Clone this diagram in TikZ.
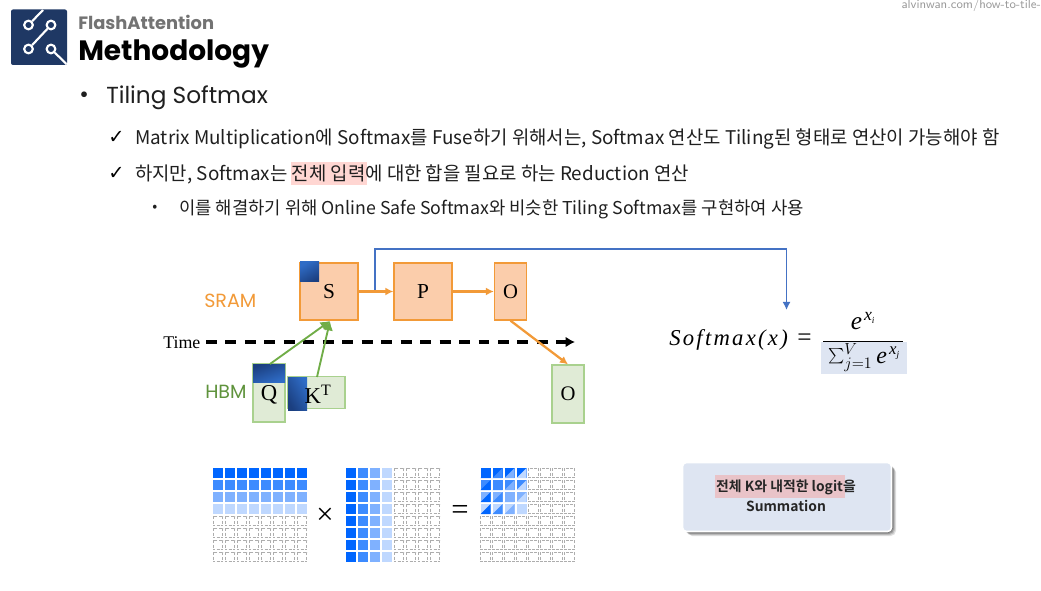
\documentclass[tikz,border=0pt]{standalone}
\usepackage{fontspec}
\usetikzlibrary{arrows.meta,calc}
\setmainfont{Noto Sans CJK KR}[BoldFont={Noto Sans CJK KR Bold}]
\newfontfamily\titlefont{Poppins}
\newfontfamily\ebfont{Liberation Serif}
\newfontfamily\eqfont[LetterSpace=10]{Liberation Serif}
\newfontfamily\chkfont{DejaVu Sans}
\definecolor{navy}{HTML}{1F3864}
\definecolor{gdark}{HTML}{1B3F80}
\definecolor{gblue}{HTML}{2F6CC6}
\definecolor{org}{HTML}{F29A38}
\definecolor{orgfill}{HTML}{FBCDAB}
\definecolor{grn}{HTML}{70AD47}
\definecolor{grnfill}{HTML}{E0EBD6}
\definecolor{grnline}{HTML}{A9D18E}
\definecolor{blu}{HTML}{4472C4}
\definecolor{hl}{HTML}{FFD6D2}
\definecolor{hlb}{HTML}{E9C3C8}
\definecolor{pale}{HTML}{DEE5F2}
\definecolor{b1}{HTML}{0066FF}
\definecolor{b2}{HTML}{3D8BFF}
\definecolor{b3}{HTML}{7FB1FF}
\definecolor{b4}{HTML}{BFD8FF}
\tikzset{
 x=0.75pt,y=-0.75pt,
 txt/.style={inner sep=0pt,anchor=west,text=black!88},
 orgbox/.style={draw=org,fill=orgfill,line width=1pt,inner sep=0pt,font=\ebfont\fontsize{16}{16}\selectfont},
 grnbox/.style={draw=grnline,fill=grnfill,line width=1pt,inner sep=0pt,font=\ebfont\fontsize{16}{16}\selectfont},
 orgarrow/.style={draw=org,line width=1.7pt,-{Latex[length=6pt,width=6pt]}},
 grnarrow/.style={draw=grn,line width=1.4pt,-{Latex[length=7pt,width=8pt]}},
 bluarrow/.style={draw=blu,line width=1.3pt,-{Latex[length=6pt,width=6pt]}},
 emptycell/.style={draw=black!32,dash pattern=on 2.2pt off 1pt,line width=0.65pt,fill=white},
 logoline/.style={draw=white,line width=1.6pt},
 logodot/.style={draw=white,line width=1.6pt,circle,minimum size=6.5pt,inner sep=0pt,fill=navy},
 bodyfont/.style={font=\fontsize{14.15}{16}\selectfont},
}
\newcommand{\cellat}[3]{\fill[#3] (#1,#2) rectangle ++(10,10);}
\newcommand{\emptyat}[2]{\draw[emptycell] (#1+.4,#2+.4) rectangle ++(9.5,9.5);}
\begin{document}
\begin{tikzpicture}
\useasboundingbox (0,0) rectangle (1041,591);
\fill[white] (0,0) rectangle (1041,591);
% logo
\fill[navy,rounded corners=1.5pt] (11,9.5) rectangle (67,65);
\node[logodot] (d1) at (28.5,25) {};
\node[logodot] (d2) at (51,25) {};
\node[logodot] (d3) at (28.5,49) {};
\node[logodot] (d4) at (51,49) {};
\coordinate (e1) at (43,10);
\coordinate (e2) at (66.5,64);
\draw[logoline] (d1) -- (e1);
\draw[logoline] (d2) -- (d3);
\draw[logoline] (d4) -- (e2);
% headings
\node[txt,font=\titlefont\bfseries\fontsize{13.4}{15}\selectfont,text=black!55] (h1) at (78,22) {FlashAttention};
\node[txt,font=\titlefont\bfseries\fontsize{21}{24}\selectfont,text=black] (h2) at (78,53.5) {Methodology};
\node[anchor=east,inner sep=0pt,font=\fontsize{9.3}{10}\selectfont\sffamily,text=black!40] (url) at (1041,5) {alvinwan.com/how-to-tile-};
% bullets
\node[txt,font=\titlefont\fontsize{17.4}{20}\selectfont] (b0) at (79,97) {•};
\node[txt,font=\titlefont\fontsize{17.4}{20}\selectfont] (t0) at (106,97.5) {Tiling Softmax};
\node[txt,font=\chkfont\fontsize{14.5}{15}\selectfont,text=black] (c1) at (108,137) {✓};
\node[txt,bodyfont] (t1) at (135,139) {Matrix Multiplication에 Softmax를 Fuse하기 위해서는, Softmax 연산도 Tiling된 형태로 연산이 가능해야 함};
\node[txt,font=\chkfont\fontsize{14.5}{15}\selectfont,text=black] (c2) at (108,173) {✓};
\fill[hl] (291,162) rectangle (367,185);
\node[txt,bodyfont] (t2) at (135,174.5) {하지만, Softmax는 전체 입력에 대한 합을 필요로 하는 Reduction 연산};
\node[txt,font=\fontsize{11}{13}\selectfont] (b3) at (152,208) {•};
\node[txt,font=\fontsize{13.3}{15}\selectfont] (t3) at (179,209.5) {이를 해결하기 위해 Online Safe Softmax와 비슷한 Tiling Softmax를 구현하여 사용};
% labels
\node[txt,font=\titlefont\fontsize{14.3}{16}\selectfont,text=org] (sram) at (204,301) {SRAM};
\node[txt,font=\titlefont\fontsize{14.3}{16}\selectfont,text=grn!85!black] (hbm) at (205,392) {HBM};
% boxes
\node[orgbox,minimum width=58*.75pt,minimum height=57*.75pt] (S) at (329,291.5) {S};
\fill[left color=gblue,right color=gdark,shading angle=30] (300,262) rectangle (319,282);
\node[orgbox,minimum width=58*.75pt,minimum height=57*.75pt] (P) at (423,291.5) {P};
\node[orgbox,minimum width=32*.75pt,minimum height=57*.75pt,font=\ebfont\fontsize{15.5}{15.5}\selectfont] (O1) at (510.5,291.5) {O};
\node[grnbox,minimum width=32*.75pt,minimum height=58*.75pt,font=\ebfont\fontsize{15.5}{15.5}\selectfont] (O2) at (568,394) {O};
\node[grnbox,minimum width=32*.75pt,minimum height=58*.75pt] (Q) at (269,393) {};
\fill[left color=gdark,right color=gblue,shading angle=20] (253,364) rectangle (285,382);
\node[font=\ebfont\fontsize{17}{17}\selectfont,inner sep=0pt] (Qt) at (269,395) {Q};
\node[grnbox,minimum width=57*.75pt,minimum height=32*.75pt] (K) at (316.5,392.5) {};
\fill[left color=gdark,right color=gblue,shading angle=120] (288,377) rectangle (307,410);
\node[font=\ebfont\fontsize{17}{17}\selectfont,inner sep=0pt] (Kt) at (318,394) {K\textsuperscript{T}};
% time
\node[anchor=west,inner sep=0pt,font=\ebfont\fontsize{13.4}{15}\selectfont] (time) at (163,343) {Time};
\coordinate (tstart) at (206,342);
\coordinate (tend) at (575,342);
\draw[black,line width=2.6pt,dash pattern=on 8.2pt off 6.4pt,-{Latex[length=7pt,width=8pt]}] (tstart) -- (tend);
% connectors
\coordinate (sp) at (375,291.5);
\coordinate (t1c) at (375,249);
\coordinate (t2c) at (786.5,249);
\coordinate (fa) at (786.5,310);
\draw[bluarrow] (sp) -- (t1c) -- (t2c) -- (fa);
\draw[orgarrow] (S) -- (P);
\draw[orgarrow] (P) -- (O1);
\draw[orgarrow] (O1.south) -- (O2.north);
\coordinate (sa) at (330,321);
\coordinate (qa) at (270,364);
\coordinate (ka) at (317,377);
\draw[grnarrow] (qa) -- (sa);
\draw[grnarrow] (ka) -- (sa);
% formula
\fill[pale] (821,342) rectangle (907,374);
\node[anchor=west,inner sep=0pt,font=\eqfont\itshape\fontsize{17}{20}\selectfont] (f) at (669,340) {Softmax(x)};
\node[anchor=west,inner sep=0pt,font=\ebfont\fontsize{19}{20}\selectfont] (feq) at (797,340) {=};
\draw[black,line width=0.7pt] (823,341) -- (903,341);
\node[inner sep=0pt,font=\ebfont\fontsize{19}{20}\selectfont] (num) at (863,321) {\itshape e\kern1.5pt\textsuperscript{\itshape x\raisebox{-2pt}{\scriptsize i}}};
\node[inner sep=0pt,font=\ebfont\fontsize{18}{20}\selectfont] (den) at (864,358) {$\scalebox{1.15}{$\sum$}_{j=1}^{V}$\kern3pt{\itshape e\kern1.5pt\textsuperscript{\itshape x\raisebox{-2pt}{\scriptsize j}}}};
% matrices
\foreach \r/\c in {0/b1,1/b2,2/b3,3/b4}{\foreach \k in {0,...,7}{\cellat{213+\k*12}{468+\r*12}{\c}}}
\foreach \r in {4,...,7}{\foreach \k in {0,...,7}{\emptyat{213+\k*12}{468+\r*12}}}
\foreach \k/\c in {0/b1,1/b2,2/b3,3/b4}{\foreach \r in {0,...,7}{\cellat{346+\k*12}{468+\r*12}{\c}}}
\foreach \r in {0,...,7}{\foreach \k in {4,...,7}{\emptyat{346+\k*12}{468+\r*12}}}
\foreach \r/\rc in {0/b1,1/b2,2/b3,3/b4}{\foreach \k/\cc in {0/b1,1/b2,2/b3,3/b4}{
  \fill[\rc] ({480.5+\k*12},{468+\r*12}) rectangle ++(10,10);
  \fill[\cc] ({480.5+\k*12},{478+\r*12}) -- ++(10,0) -- ++(0,-10) -- cycle;
}}
\foreach \r in {0,...,3}{\foreach \k in {4,...,7}{\emptyat{480.5+\k*12}{468+\r*12}}}
\foreach \r in {4,...,7}{\foreach \k in {0,...,7}{\emptyat{480.5+\k*12}{468+\r*12}}}
\node[inner sep=0pt,font=\ebfont\fontsize{23}{23}\selectfont] (times) at (325,516) {×};
\node[inner sep=0pt,font=\ebfont\fontsize{23}{23}\selectfont] (eq) at (460,512) {=};
% callout
\foreach \o/\a in {4/.12,3/.15,2/.2,1/.25}{
  \fill[black,opacity=\a,rounded corners=4pt] (683+\o,463+\o) rectangle (892+\o,532+\o);
}
\node[draw=white,line width=1.2pt,fill=pale,rounded corners=3pt,minimum width=209*.75pt,minimum height=69*.75pt,inner sep=0pt] (box) at (787,497) {};
\fill[hlb] (714.5,475) rectangle (845,498);
\node[inner sep=0pt,font=\fontsize{10.4}{12}\selectfont\bfseries,align=center,text=black!85] (boxt) at (786,487.5) {전체 K와 내적한 logit을};
\node[inner sep=0pt,font=\fontsize{10.4}{12}\selectfont\bfseries,text=black!85] (boxt2) at (786,506) {Summation};
\end{tikzpicture}
\end{document}
